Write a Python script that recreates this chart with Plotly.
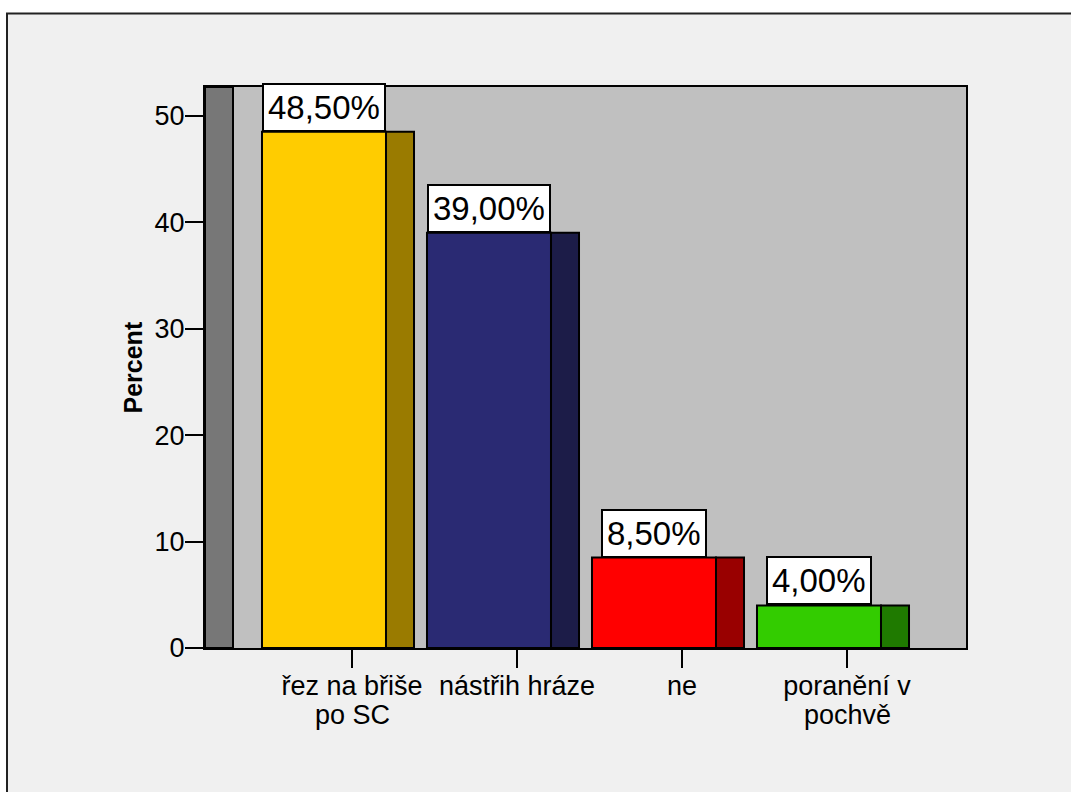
import plotly.graph_objects as go

# Data
categories = ["řez na břiše|po SC", "nástřih hráze", "ne", "poranění v|pochvě"]
percents = [48.5, 39.0, 8.5, 4.0]
value_labels = ["48,50%", "39,00%", "8,50%", "4,00%"]
front_colors = ["#ffcc00", "#2a2a73", "#ff0000", "#33cc00"]
side_colors = ["#9a7b00", "#1c1c48", "#990000", "#1f7a00"]
y_ticks = [0, 10, 20, 30, 40, 50]

FONT = "Liberation Sans, Arial, sans-serif"
W, H = 1071, 792
ML, MR, MT, MB = 205, 105, 87, 144

x_pos = list(range(len(categories)))
first_lines = [c.split("|")[0] for c in categories]
second_lines = [c.split("|")[1] if "|" in c else "" for c in categories]

# geometry of the pseudo-3D bars, in category units
x_min, x_max = -0.8909, 3.7212
front_off, front_w = -0.5455, 0.7515
side_off, side_w = 0.2061, 0.1697
wall_x0, wall_x1 = -0.8909, -0.7212
y_top = 52.7

fig = go.Figure()

# front faces
fig.add_trace(go.Bar(
    x=x_pos, y=percents, base=0,
    offset=front_off, width=front_w,
    marker=dict(color=front_colors, line=dict(color="black", width=2)),
    hoverinfo="skip", showlegend=False,
))
# side faces (depth)
fig.add_trace(go.Bar(
    x=x_pos, y=percents, base=0,
    offset=side_off, width=side_w,
    marker=dict(color=side_colors, line=dict(color="black", width=2)),
    hoverinfo="skip", showlegend=False,
))

# value labels in white boxes sitting on the front faces
for xi, v, lab in zip(x_pos, percents, value_labels):
    fig.add_annotation(
        x=xi + front_off + front_w / 2, y=v, xref="x", yref="y",
        text=lab, showarrow=False, xanchor="center", yanchor="bottom",
        font=dict(family=FONT, size=33, color="black"),
        bgcolor="white", bordercolor="black", borderwidth=2, borderpad=4,
    )

pw = W - ML - MR
ph = H - MT - MB

# second lines of the wrapped category labels (tighter leading than <br>)
for xi, line in zip(x_pos, second_lines):
    if line:
        fig.add_annotation(
            x=xi, y=(H - MB - 715) / ph, xref="x", yref="paper",
            text=line, showarrow=False, xanchor="center", yanchor="middle",
            font=dict(family=FONT, size=27, color="black"),
        )

# y axis title
fig.add_annotation(
    x=(132 - ML) / pw, y=0.5, xref="paper", yref="paper",
    text="<b>Percent</b>", textangle=-90, showarrow=False,
    xanchor="center", yanchor="middle",
    font=dict(family=FONT, size=25, color="black"),
)

shapes = [
    # outer frame of the chart
    dict(type="rect", xref="paper", yref="paper", layer="below",
         x0=(7 - ML) / pw, x1=(W + 20 - ML) / pw,
         y0=(H - MB - (H + 20)) / ph, y1=(H - MB - 13.5) / ph,
         fillcolor="#f0f0f0", line=dict(color="#222222", width=2)),
    # back panel of the plot area
    dict(type="rect", xref="paper", yref="paper", layer="below",
         x0=0, x1=1, y0=0, y1=1,
         fillcolor="#c0c0c0", line=dict(width=0)),
    # left wall of the 3D frame
    dict(type="rect", xref="x", yref="paper", layer="below",
         x0=wall_x0, x1=wall_x1, y0=0, y1=1,
         fillcolor="#777777", line=dict(color="black", width=2)),
]

fig.update_layout(
    width=W, height=H,
    margin=dict(l=ML, r=MR, t=MT, b=MB, autoexpand=False),
    paper_bgcolor="white",
    plot_bgcolor="#c0c0c0",
    barmode="overlay",
    shapes=shapes,
    font=dict(family=FONT, color="black"),
    xaxis=dict(
        range=[x_min, x_max], tickmode="array", tickvals=x_pos, ticktext=first_lines,
        ticks="outside", ticklen=18, tickwidth=2, tickcolor="black",
        showline=True, linecolor="black", linewidth=2, mirror=True,
        showgrid=False, zeroline=False, fixedrange=True,
        ticklabelstandoff=-5,
        tickfont=dict(family=FONT, size=27, color="black"),
    ),
    yaxis=dict(
        range=[0, y_top], tickmode="array", tickvals=y_ticks,
        ticks="outside", ticklen=18, tickwidth=2, tickcolor="black",
        showline=True, linecolor="black", linewidth=2, mirror=True,
        showgrid=False, zeroline=False, fixedrange=True,
        ticklabelstandoff=-5,
        tickfont=dict(family=FONT, size=27, color="black"),
    ),
)

fig.write_html("out.html", config={"displayModeBar": False})
